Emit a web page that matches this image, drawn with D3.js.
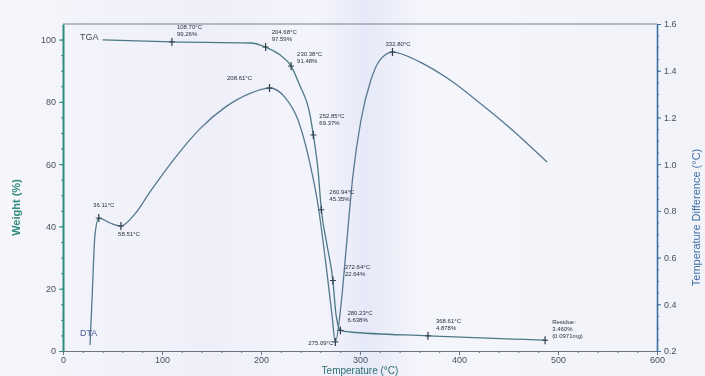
<!DOCTYPE html>
<html>
<head>
<meta charset="utf-8">
<script src="https://cdn.jsdelivr.net/npm/d3@7"></script>
<style>
  html, body { margin: 0; padding: 0; background: #ffffff; }
  svg { display: block; font-family: "Liberation Sans", Arial, sans-serif; }
</style>
</head>
<body>
<svg id="chart" width="705" height="376"></svg>
<script>
// TGA: weight (%) vs temperature (°C)
const tgaTemp   = [40, 110, 189, 204.68, 219, 230.38, 239, 249.5, 252.85, 257.6, 260.94, 266.7, 272.64, 275.8, 280.23, 290, 368.61, 487];
const tgaWeight = [99.9, 99.26, 98.9, 97.59, 95.1, 91.48, 85.4, 75.8, 69.37, 58.1, 45.35, 34.0, 22.64, 11.6, 6.638, 6.1, 4.878, 3.46];

// DTA: temperature difference (°C) vs temperature (°C)
const dtaTemp = [27.3, 29.3, 32.3, 36.11, 47.5, 58.51, 72.7, 87.9, 113, 138, 163.6, 189, 208.61, 224, 237.4, 247.5, 257.6, 265.7, 271.7, 275.09, 280.8, 285.9, 292.9, 301, 311, 320.2, 332.8, 360.6, 391, 421, 451.5, 489];
const dtaDiff = [0.226, 0.418, 0.697, 0.769, 0.748, 0.735, 0.787, 0.881, 1.026, 1.150, 1.243, 1.303, 1.326, 1.287, 1.189, 1.039, 0.825, 0.568, 0.354, 0.239, 0.397, 0.632, 0.953, 1.189, 1.36, 1.446, 1.48, 1.437, 1.36, 1.262, 1.155, 1.009];

// Annotated TGA points: temperature, weight, label lines
const tgaMarkTemp   = [110, 204.68, 230.38, 252.85, 260.94, 272.64, 280.23, 368.61, 487];
const tgaMarkWeight = [99.26, 97.59, 91.48, 69.37, 45.35, 22.64, 6.638, 4.878, 3.46];
const tgaMarkText   = [
  ["108.70°C", "99.26%"],
  ["204.68°C", "97.59%"],
  ["230.38°C", "91.48%"],
  ["252.85°C", "69.37%"],
  ["260.94°C", "45.35%"],
  ["272.64°C", "22.64%"],
  ["280.23°C", "6.638%"],
  ["368.61°C", "4.878%"],
  ["Residue:", "3.460%", "(0.0971mg)"]
];

// Annotated DTA peaks
const dtaMarkTemp = [36.11, 58.51, 208.61, 275.09, 332.8];
const dtaMarkDiff = [0.769, 0.735, 1.326, 0.239, 1.48];
const dtaMarkText = ["36.11°C", "58.51°C", "208.61°C", "275.09°C", "332.80°C"];

const xTicks = [0, 100, 200, 300, 400, 500, 600];
const yLeftTicks = [0, 20, 40, 60, 80, 100];
const yRightTicks = [0.2, 0.4, 0.6, 0.8, 1.0, 1.2, 1.4, 1.6];

const W = 705, H = 376;
const margin = { top: 24, right: 48, bottom: 25, left: 63 };
const svg = d3.select("#chart");

const defs = svg.append("defs");
defs.append("filter").attr("id", "soft")
  .append("feGaussianBlur").attr("stdDeviation", 0.45);
const grad = defs.append("linearGradient").attr("id", "haze")
  .attr("x1", "0").attr("x2", "1").attr("y1", "0").attr("y2", "0");
[[0, "#f6f6fb"], [0.3, "#eeeff9"], [0.45, "#f4f4fc"], [0.52, "#e6e9f7"], [0.6, "#f5f5fc"], [1, "#f2f2f9"]]
  .forEach(([o, c]) => grad.append("stop").attr("offset", o).attr("stop-color", c));

svg.append("rect").attr("width", W).attr("height", H).attr("fill", "url(#haze)");

const g = svg.append("g").attr("filter", "url(#soft)");

const x = d3.scaleLinear().domain([0, 600]).range([margin.left, W - margin.right]);
const yL = d3.scaleLinear().domain([0, 105]).range([H - margin.bottom, margin.top]);
const yR = d3.scaleLinear().domain([0.2, 1.6]).range([H - margin.bottom, margin.top]);

// Frame top line
g.append("line")
  .attr("x1", x(0)).attr("x2", x(600)).attr("y1", margin.top).attr("y2", margin.top)
  .attr("stroke", "#7a8090").attr("stroke-width", 1.2);

// X axis
const xAxis = g.append("g").attr("transform", `translate(0,${H - margin.bottom})`)
  .call(d3.axisBottom(x).tickValues(xTicks).tickSize(4).tickPadding(2).tickSizeOuter(0));
xAxis.select(".domain").attr("stroke", "#6a7484").attr("stroke-width", 1.1);
xAxis.selectAll(".tick line").attr("stroke", "#6a7484");
xAxis.selectAll("text").attr("fill", "#4a5060").attr("font-size", 9);
g.append("g").attr("transform", `translate(0,${H - margin.bottom})`)
  .call(d3.axisBottom(x).ticks(30).tickSize(2).tickFormat(""))
  .call(s => s.select(".domain").remove())
  .selectAll("line").attr("stroke", "#6a7484");

// Left axis (weight)
const leftAxis = g.append("g").attr("transform", `translate(${margin.left},0)`)
  .call(d3.axisLeft(yL).tickValues(yLeftTicks).tickSize(4).tickSizeOuter(0));
leftAxis.select(".domain").attr("stroke", "#2e8c7c").attr("stroke-width", 2);
leftAxis.selectAll(".tick line").attr("stroke", "#2e8c7c");
leftAxis.selectAll("text").attr("fill", "#4a5060").attr("font-size", 9);
g.append("g").attr("transform", `translate(${margin.left},0)`)
  .call(d3.axisLeft(yL).tickValues(d3.range(0, 105, 5)).tickSize(2).tickFormat(""))
  .call(s => s.select(".domain").remove())
  .selectAll("line").attr("stroke", "#2e8c7c");

// Right axis (temperature difference)
const rightAxis = g.append("g").attr("transform", `translate(${W - margin.right},0)`)
  .call(d3.axisRight(yR).tickValues(yRightTicks).tickSize(4).tickSizeOuter(0).tickFormat(d3.format(".1f")));
rightAxis.select(".domain").attr("stroke", "#3f70a6").attr("stroke-width", 1.6);
rightAxis.selectAll(".tick line").attr("stroke", "#3f70a6");
rightAxis.selectAll("text").attr("fill", "#4a5060").attr("font-size", 9);
g.append("g").attr("transform", `translate(${W - margin.right},0)`)
  .call(d3.axisRight(yR).tickValues(d3.range(0.2, 1.61, 0.05)).tickSize(2).tickFormat(""))
  .call(s => s.select(".domain").remove())
  .selectAll("line").attr("stroke", "#3f70a6");

// Axis titles
g.append("text").attr("transform", `translate(20,${(margin.top + H - margin.bottom) / 2 + 20}) rotate(-90)`)
  .attr("text-anchor", "middle").attr("fill", "#2e8c7c").attr("font-size", 11).attr("font-weight", "bold")
  .text("Weight (%)");
g.append("text").attr("transform", `translate(700,${(margin.top + H - margin.bottom) / 2 + 30}) rotate(-90)`)
  .attr("text-anchor", "middle").attr("fill", "#3f70a6").attr("font-size", 11)
  .text("Temperature Difference (°C)");
g.append("text").attr("x", 360).attr("y", 374)
  .attr("text-anchor", "middle").attr("fill", "#2e6e70").attr("font-size", 10)
  .text("Temperature (°C)");

// Curves
const tgaLine = d3.line().x(i => x(tgaTemp[i])).y(i => yL(tgaWeight[i])).curve(d3.curveMonotoneX);
const dtaLine = d3.line().x(i => x(dtaTemp[i])).y(i => yR(dtaDiff[i])).curve(d3.curveMonotoneX);

g.append("path").attr("d", dtaLine(d3.range(dtaTemp.length)))
  .attr("fill", "none").attr("stroke", "#56788f").attr("stroke-width", 1.3);
g.append("path").attr("d", tgaLine(d3.range(tgaTemp.length)))
  .attr("fill", "none").attr("stroke", "#4a7a84").attr("stroke-width", 1.3);

// Curve names
g.append("text").attr("x", 80).attr("y", 40).attr("fill", "#3a4a5a").attr("font-size", 9).text("TGA");
g.append("text").attr("x", 80).attr("y", 336).attr("fill", "#4a60a0").attr("font-size", 9).text("DTA");

// Marker crosses
function cross(px, py) {
  g.append("line").attr("x1", px).attr("x2", px).attr("y1", py - 4).attr("y2", py + 4)
    .attr("stroke", "#2f3d4a").attr("stroke-width", 1.2);
  g.append("line").attr("x1", px - 3).attr("x2", px + 3).attr("y1", py).attr("y2", py)
    .attr("stroke", "#2f3d4a").attr("stroke-width", 1);
}

// TGA annotation label offsets (dx, dy of first line relative to marker)
const tgaLabelOff = [[5, -13], [6, -13], [6, -10], [6, -17], [8, -16], [12, -11], [7, -15], [8, -13], [7, -16]];
tgaMarkTemp.forEach((t, i) => {
  const px = x(t), py = yL(tgaMarkWeight[i]);
  cross(px, py);
  const tx = g.append("text").attr("x", px + tgaLabelOff[i][0]).attr("y", py + tgaLabelOff[i][1])
    .attr("fill", "#2a3040").attr("font-size", 6);
  tgaMarkText[i].forEach((s, j) => tx.append("tspan").attr("x", px + tgaLabelOff[i][0]).attr("dy", j ? 7 : 0).text(s));
});

// DTA annotation labels: anchor and offset
const dtaLabelOff = [[5, -11, "middle"], [8, 10, "middle"], [-30, -8, "middle"], [-2, 3, "end"], [-7, -6, "start"]];
dtaMarkTemp.forEach((t, i) => {
  const px = x(t), py = yR(dtaMarkDiff[i]);
  cross(px, py);
  g.append("text").attr("x", px + dtaLabelOff[i][0]).attr("y", py + dtaLabelOff[i][1])
    .attr("text-anchor", dtaLabelOff[i][2])
    .attr("fill", "#2a3040").attr("font-size", 6).text(dtaMarkText[i]);
});
</script>
</body>
</html>
